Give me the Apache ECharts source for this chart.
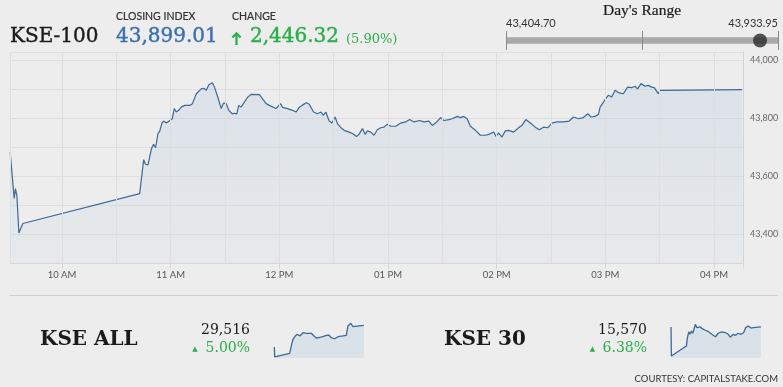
<!DOCTYPE html>
<html>
<head>
<meta charset="utf-8">
<script src="https://cdn.jsdelivr.net/npm/echarts@6/dist/echarts.min.js"></script>
<style>
html,body{margin:0;padding:0;background:#ededed;}
#chart{width:783px;height:387px;}
</style>
</head>
<body>
<div id="chart"></div>
<script>
// ---------- DATA ----------
// Header
const indexName = 'KSE-100';
const closingIndex = 43899.01;
const changePoints = 2446.32;
const changePercent = 5.90;
const dayLow = 43404.70;
const dayHigh = 43933.95;

// Main intraday series (time in minutes after midnight, index value)
const kse100Minutes = [
  571.4, 573.6, 574.3, 575.1, 576.2, 577.3, 578.4, 642.9, 645.1, 646.1,
  647.5, 649.4, 650.6, 651.7, 653.0, 653.9, 655.2, 656.1, 657.6, 659.5,
  660.9, 662.0, 663.1, 664.4, 665.9, 667.7, 670.5, 672.0, 674.2, 675.0,
  676.9, 678.2, 679.7, 681.1, 683.0, 684.2, 686.0, 687.9, 689.2, 690.7,
  692.1, 693.0, 694.0, 695.2, 696.5, 697.6, 698.9, 700.7, 702.6, 704.4,
  709.0, 712.7, 714.5, 718.2, 720.6, 721.8, 724.6, 727.3, 729.2, 731.0,
  732.5, 735.0, 736.5, 738.9, 741.1, 743.0, 744.2, 745.7, 747.5, 749.0,
  750.8, 752.1, 754.0, 755.8, 758.5, 760.4, 762.6, 764.0, 765.9, 767.4,
  768.6, 770.5, 772.3, 774.1, 776.0, 777.8, 779.6, 781.5, 784.3, 787.0,
  789.7, 792.0, 794.3, 797.5, 799.8, 802.6, 804.4, 806.3, 809.0, 810.8,
  813.6, 815.4, 818.2, 820.0, 821.8, 823.7, 825.5, 828.3, 831.0, 833.8,
  835.6, 838.4, 839.6, 841.1, 842.9, 844.8, 846.6, 847.6, 849.4, 852.1,
  853.9, 856.1, 858.6, 861.3, 863.5, 865.9, 868.3, 870.5, 873.2, 876.9,
  880.0, 882.4, 885.2, 887.9, 890.3, 892.1, 894.3, 896.2, 897.1, 898.4,
  899.5, 901.7, 903.5, 905.4, 907.6, 909.9, 912.3, 914.5, 916.4, 917.8,
  919.7, 921.9, 923.7, 925.5, 927.0, 928.3, 929.2, 930.1, 975.5
];
const kse100Values = [
  43684, 43524, 43558, 43535, 43405, 43409, 43438, 43541, 43658, 43642,
  43640, 43696, 43711, 43699, 43748, 43755, 43784, 43791, 43784, 43793,
  43799, 43834, 43822, 43828, 43839, 43845, 43845, 43851, 43885, 43882,
  43902, 43904, 43897, 43916, 43923, 43908, 43874, 43834, 43853, 43851,
  43828, 43834, 43816, 43818, 43816, 43845, 43839, 43856, 43874, 43883,
  43882, 43851, 43845, 43834, 43851, 43838, 43834, 43828, 43822, 43838,
  43845, 43854, 43849, 43822, 43816, 43822, 43811, 43822, 43791, 43784,
  43805, 43782, 43768, 43759, 43753, 43748, 43738, 43745, 43765, 43745,
  43757, 43753, 43742, 43761, 43768, 43770, 43780, 43773, 43773, 43784,
  43788, 43796, 43788, 43793, 43788, 43791, 43776, 43784, 43803, 43793,
  43796, 43799, 43807, 43803, 43807, 43799, 43773, 43759, 43742, 43742,
  43745, 43753, 43738, 43750, 43736, 43757, 43759, 43761, 43753, 43768,
  43776, 43796, 43784, 43770, 43761, 43770, 43768, 43784, 43788, 43788,
  43791, 43805, 43799, 43803, 43816, 43805, 43807, 43814, 43839, 43851,
  43862, 43880, 43874, 43897, 43888, 43885, 43908, 43906, 43911, 43902,
  43920, 43911, 43914, 43908, 43906, 43894, 43885, 43897, 43899
];

// X axis ticks (minutes after midnight) and labels
const tickMinutes = [600, 660, 720, 780, 840, 900, 960];
const timeLabels = ['10 AM', '11 AM', '12 PM', '01 PM', '02 PM', '03 PM', '04 PM'];
const sessionStart = 571.3;
const sessionEnd = 976;

// Y axis
const yMin = 43300, yMax = 44029, yStep = 100, yLabelStep = 200, yLabelTop = 44000;

// KSE ALL mini chart
const kseAllName = 'KSE ALL';
const kseAllLast = 29516;
const kseAllPct = 5.00;
const kseAllMinutes = [572.8, 574.5, 641.9, 649.0, 656.8, 667.2, 676.2, 687.1, 694.1, 701.7,
  716.7, 739.0, 751.2, 761.6, 776.8, 791.6, 806.6, 817.4, 829.1, 844.2,
  859.1, 881.6, 896.4, 904.0, 916.2, 926.6, 934.3, 975.5];
const kseAllValues = [29307, 29210, 29246, 29317, 29382, 29414, 29430, 29414, 29397, 29446,
  29440, 29440, 29414, 29394, 29401, 29407, 29420, 29423, 29397, 29387,
  29407, 29414, 29420, 29511, 29537, 29504, 29516, 29516];
const kseAllRange = [29200, 29540];

// KSE 30 mini chart
const kse30Name = 'KSE 30';
const kse30Last = 15570;
const kse30Pct = 6.38;
const kse30Minutes = [571.4, 572.9, 575.9, 640.6, 645.1, 651.1, 657.1, 663.1, 669.2, 675.2,
  681.2, 687.2, 693.2, 702.3, 711.3, 723.3, 735.3, 745.9, 760.9, 771.4,
  783.5, 798.5, 816.6, 828.6, 837.6, 851.2, 861.7, 873.7, 885.7, 897.8,
  906.8, 918.8, 930.9, 941.4, 975.5];
const kse30Values = [15569, 15345, 15351, 15423, 15487, 15531, 15513, 15538, 15521, 15556,
  15590, 15564, 15577, 15571, 15556, 15546, 15538, 15525, 15505, 15494,
  15521, 15531, 15525, 15513, 15490, 15513, 15505, 15521, 15513, 15525,
  15564, 15577, 15561, 15564, 15570];
const kse30Range = [15330, 15600];

const courtesy = 'COURTESY: CAPITALSTAKE.COM';

// ---------- STYLE ----------
const BG = '#ededed';
const LINE = '#3c6997';
const GREEN = '#2aae48';
const BLUE = '#3a70ae';
const GRID = '#dedede';
const SERIF = '"DejaVu Serif", serif';
const SANS = 'Lato, "Open Sans", sans-serif';

const fmt = (v, d) => v.toLocaleString('en-US', {minimumFractionDigits: d, maximumFractionDigits: d});
const pair = (xs, ys) => xs.map((x, i) => [x, ys[i]]);

const gridMinutes = [sessionStart];
for (let m = 600; m <= 960; m += 30) gridMinutes.push(m);

const chart = echarts.init(document.getElementById('chart'), null, {renderer: 'canvas'});

function txt(text, x, y, font, fill, align, stroke) {
  const style = {text, x, y, font, fill, textAlign: align || 'left', textVerticalAlign: 'middle'};
  if (stroke) { style.stroke = fill; style.lineWidth = stroke; }
  return {type: 'text', silent: true, style};
}

const option = {
  backgroundColor: BG,
  animation: false,
  grid: [
    {left: 10, top: 52, width: 733, height: 211.5},
    {left: 274, top: 323, width: 90, height: 35},
    {left: 671, top: 323, width: 90, height: 35},
    {left: 506, top: 31, width: 272, height: 19}
  ],
  xAxis: [
    {
      type: 'value', gridIndex: 0, min: sessionStart, max: sessionEnd,
      axisLine: {show: true, lineStyle: {color: '#d6d6d6'}},
      axisTick: {show: true, length: 5, lineStyle: {color: '#d6d6d6'}, customValues: tickMinutes.concat([sessionEnd])},
      axisLabel: {
        customValues: tickMinutes, margin: 6, color: '#555', fontFamily: SANS, fontSize: 9.5,
        formatter: v => timeLabels[tickMinutes.indexOf(v)] || ''
      },
      splitLine: {show: false}
    },
    {type: 'value', gridIndex: 1, min: sessionStart, max: sessionEnd, show: false},
    {type: 'value', gridIndex: 2, min: sessionStart, max: sessionEnd, show: false},
    {type: 'value', gridIndex: 3, min: dayLow, max: dayHigh, show: false}
  ],
  yAxis: [
    {
      type: 'value', gridIndex: 0, position: 'right', min: yMin, max: yMax, interval: yStep,
      axisLine: {show: true, lineStyle: {color: '#d2d2d2'}},
      axisTick: {show: false},
      axisLabel: {
        margin: 7, color: '#666', fontFamily: SANS, fontSize: 9,
        formatter: v => (v % yLabelStep === 0 && v <= yLabelTop) ? fmt(v, 0) : ''
      },
      splitLine: {show: true, lineStyle: {color: GRID}}
    },
    {type: 'value', gridIndex: 1, min: kseAllRange[0], max: kseAllRange[1], show: false},
    {type: 'value', gridIndex: 2, min: kse30Range[0], max: kse30Range[1], show: false},
    {type: 'value', gridIndex: 3, min: -1, max: 1, show: false}
  ],
  series: [
    {
      // vertical grid lines, beneath the area
      type: 'line', xAxisIndex: 0, yAxisIndex: 0, z: 1, silent: true,
      data: [], symbol: 'none',
      markLine: {
        silent: true, symbol: 'none', animation: false, label: {show: false},
        lineStyle: {color: GRID, type: 'solid', width: 1},
        data: gridMinutes.map(m => ({xAxis: m}))
      }
    },
    {
      type: 'line', xAxisIndex: 0, yAxisIndex: 0, z: 3,
      data: pair(kse100Minutes, kse100Values),
      symbol: 'none', lineStyle: {color: LINE, width: 1.2},
      areaStyle: {
        origin: 'start',
        color: new echarts.graphic.LinearGradient(0, 0, 0, 1, [
          {offset: 0, color: 'rgba(170,195,220,0.38)'},
          {offset: 1, color: 'rgba(170,195,220,0.12)'}
        ])
      }
    },
    {
      type: 'line', xAxisIndex: 1, yAxisIndex: 1,
      data: pair(kseAllMinutes, kseAllValues), symbol: 'none',
      lineStyle: {color: LINE, width: 1.3},
      areaStyle: {origin: 'start', color: '#d9e1e9', opacity: 1}
    },
    {
      type: 'line', xAxisIndex: 2, yAxisIndex: 2,
      data: pair(kse30Minutes, kse30Values), symbol: 'none',
      lineStyle: {color: LINE, width: 1.3},
      areaStyle: {origin: 'start', color: '#d9e1e9', opacity: 1}
    },
    {
      // day's range bar
      type: 'line', xAxisIndex: 3, yAxisIndex: 3, z: 2,
      data: [[dayLow, 0], [dayHigh, 0]], symbol: 'none',
      lineStyle: {color: '#a9a9a9', width: 6.5, cap: 'butt'},
      markLine: {
        silent: true, symbol: 'none', label: {show: false},
        lineStyle: {color: '#8a8a8a', type: 'solid', width: 1},
        data: [{xAxis: dayLow}, {xAxis: (dayLow + dayHigh) / 2}, {xAxis: dayHigh}]
      }
    },
    {
      type: 'scatter', xAxisIndex: 3, yAxisIndex: 3, z: 5,
      data: [[closingIndex, 0]], symbolSize: 14,
      itemStyle: {color: '#2b2b2b'}
    }
  ],
  graphic: [
    txt(indexName, 10, 36.5, '20px ' + SERIF, '#1b1b1b', 'left', 0.4),
    txt('CLOSING INDEX', 116, 17, '10.5px ' + SANS, '#333', 'left', 0.2),
    txt(fmt(closingIndex, 2), 116, 37, '20px ' + SERIF, BLUE, 'left', 0.4),
    txt('CHANGE', 232, 17, '10.5px ' + SANS, '#333', 'left', 0.2),
    {type: 'polyline', silent: true, shape: {points: [[236.5, 45], [236.5, 33]]}, style: {stroke: GREEN, lineWidth: 2.2, fill: null}},
    {type: 'polyline', silent: true, shape: {points: [[232.4, 37.4], [236.5, 33.2], [240.6, 37.4]]}, style: {stroke: GREEN, lineWidth: 2.2, fill: null}},
    txt(fmt(changePoints, 2), 250, 37, '20px ' + SERIF, GREEN, 'left', 0.4),
    txt('(' + fmt(changePercent, 2) + '%)', 346, 39.5, '13px ' + SERIF, GREEN),
    txt("Day's Range", 642, 11, '15.5px "Liberation Serif", serif', '#1b1b1b', 'center', 0.2),
    txt(fmt(dayLow, 2), 506, 23.3, '11px ' + SANS, '#333'),
    txt(fmt(dayHigh, 2), 778, 23.3, '11px ' + SANS, '#333', 'right'),
    {type: 'line', silent: true, shape: {x1: 10, y1: 295.5, x2: 778, y2: 295.5}, style: {stroke: '#cfcfcf', lineWidth: 1}},
    txt(kseAllName, 40, 339.5, 'bold 20px ' + SERIF, '#1b1b1b'),
    txt(fmt(kseAllLast, 0), 250, 330.5, '14px ' + SERIF, '#1b1b1b', 'right'),
    txt('\u25B2', 195, 349.5, '7px "DejaVu Sans"', GREEN, 'center'),
    txt(fmt(kseAllPct, 2) + '%', 250, 348.5, '14px ' + SERIF, GREEN, 'right'),
    txt(kse30Name, 444, 339.5, 'bold 20px ' + SERIF, '#1b1b1b'),
    txt(fmt(kse30Last, 0), 647, 330.5, '14px ' + SERIF, '#1b1b1b', 'right'),
    txt('\u25B2', 592.5, 349.5, '7px "DejaVu Sans"', GREEN, 'center'),
    txt(fmt(kse30Pct, 2) + '%', 647, 348.5, '14px ' + SERIF, GREEN, 'right'),
    txt(courtesy, 778, 378.5, '9.5px ' + SANS, '#333', 'right')
  ]
};
chart.setOption(option);
</script>
</body>
</html>
